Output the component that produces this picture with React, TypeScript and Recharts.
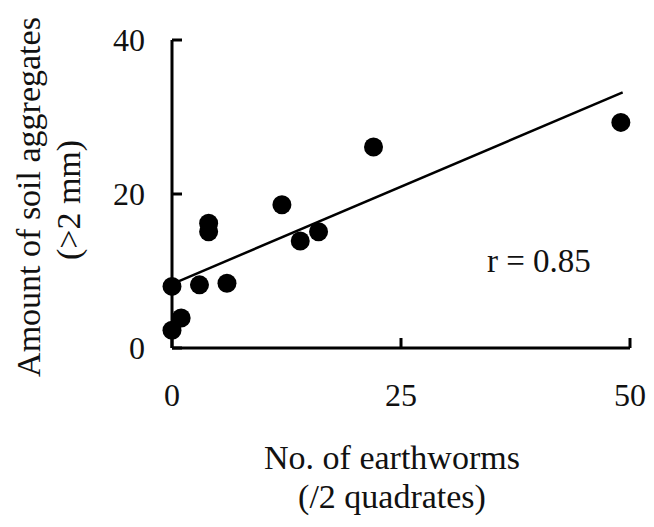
import React from 'react';
import { ScatterChart, Scatter, XAxis, YAxis, ReferenceLine, Label, Customized } from 'recharts';

const earthworms = [0, 3, 6, 0, 1, 4, 4, 12, 14, 16, 22, 49];
const aggregates = [8, 8.2, 8.4, 2.3, 3.9, 16.2, 15.1, 18.6, 13.9, 15.1, 26.1, 29.3];
const xTicks = [0, 25, 50];
const yTicks = [0, 20, 40];
const fitX = [0, 49.2];
const fitY = [8.3, 33.2];
const xLabelLines = ['No. of earthworms', '(/2 quadrates)'];
const yLabelLines = ['Amount of soil aggregates', '(>2 mm)'];
const rText = 'r = 0.85';

const points = earthworms.map((x, i) => ({ x, y: aggregates[i] }));
const FONT = '"Liberation Serif", "Times New Roman", serif';

const Dot = (props: any) => <circle cx={props.cx} cy={props.cy} r={9.5} fill="#000" />;

const XLabel = (props: any) => {
  const vb = props.viewBox || { x: 0, y: 0, width: 0 };
  const cx = vb.x + vb.width / 2 - 9;
  return (
    <g>
      <text x={cx} y={469} textAnchor="middle" fontFamily={FONT} fontSize={34} fill="#111">{xLabelLines[0]}</text>
      <text x={cx} y={508} textAnchor="middle" fontFamily={FONT} fontSize={34} fill="#111">{xLabelLines[1]}</text>
    </g>
  );
};

const YLabel = () => (
  <g>
    <text x={40} y={197} transform="rotate(-90 40 197)" textAnchor="middle" fontFamily={FONT} fontSize={34} fill="#111">{yLabelLines[0]}</text>
    <text x={80} y={200} transform="rotate(-90 80 200)" textAnchor="middle" fontFamily={FONT} fontSize={34} fill="#111">{yLabelLines[1]}</text>
  </g>
);

const RText = () => (
  <text x={487} y={272} fontFamily={FONT} fontSize={33} fill="#111">{rText}</text>
);

export default function App() {
  return (
    <div style={{ position: 'absolute', left: 0, top: 0, width: 654, height: 527, background: '#fff' }}>
      <ScatterChart width={654} height={527} margin={{ top: 40, right: 24, left: 0, bottom: 0 }}>
        <XAxis
          type="number"
          dataKey="x"
          domain={[0, 50]}
          ticks={xTicks}
          height={179}
          axisLine={{ stroke: '#000', strokeWidth: 3 }}
          tickLine={{ stroke: '#000', strokeWidth: 3 }}
          tickSize={-10}
          tickMargin={45}
          tick={{ fontFamily: FONT, fontSize: 32, fill: '#111' }}
        >
          <Label content={<XLabel />} />
        </XAxis>
        <YAxis
          type="number"
          dataKey="y"
          domain={[0, 40]}
          ticks={yTicks}
          width={172}
          axisLine={{ stroke: '#000', strokeWidth: 3 }}
          tickLine={{ stroke: '#000', strokeWidth: 3 }}
          tickSize={-10}
          tickMargin={37}
          tick={{ fontFamily: FONT, fontSize: 32, fill: '#111' }}
        >
          <Label content={<YLabel />} />
        </YAxis>
        <ReferenceLine
          segment={[{ x: fitX[0], y: fitY[0] }, { x: fitX[1], y: fitY[1] }]}
          stroke="#000"
          strokeWidth={2.5}
          ifOverflow="visible"
        />
        <Scatter data={points} shape={<Dot />} isAnimationActive={false} />
        <Customized component={<RText />} />
      </ScatterChart>
    </div>
  );
}
